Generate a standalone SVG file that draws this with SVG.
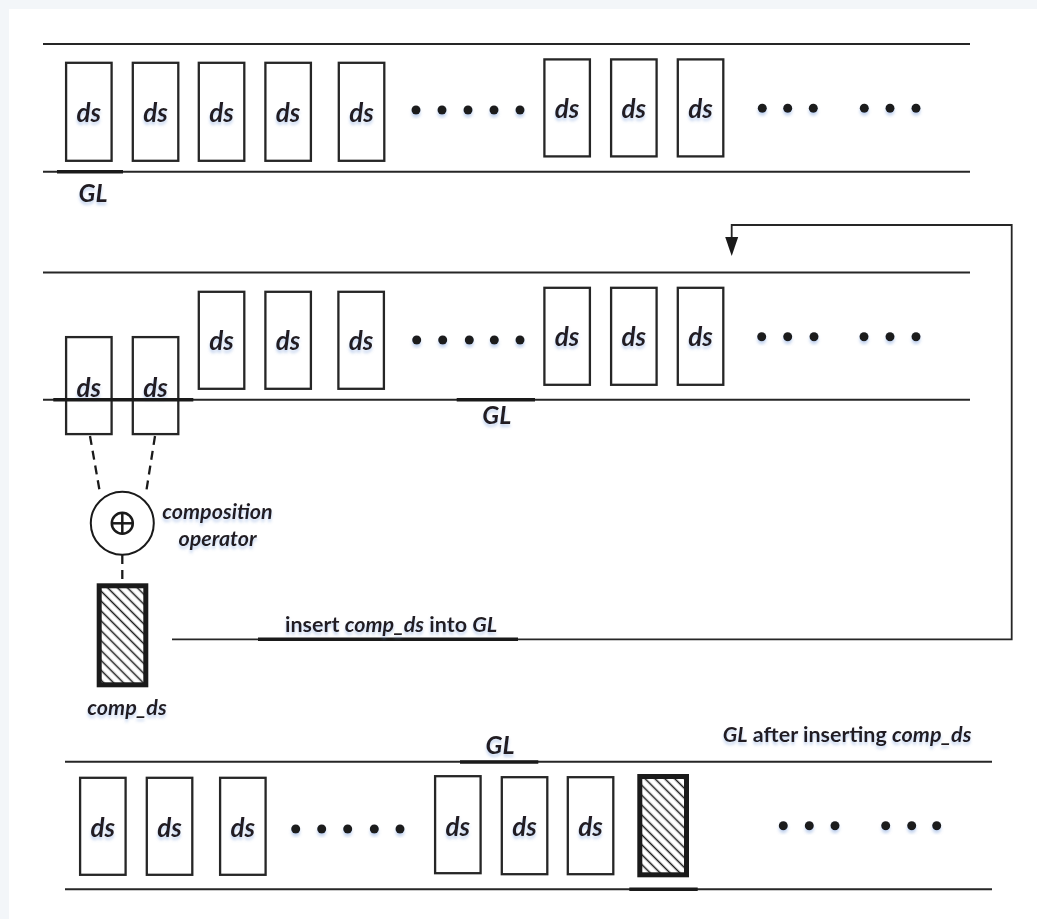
<svg xmlns="http://www.w3.org/2000/svg" width="1037" height="919" viewBox="0 0 1037 919">
<defs>
<style>
.ln{stroke:#262626;stroke-width:2;fill:none}
.tk{stroke:#1a1a1a;stroke-width:3.6;fill:none}
.bx{fill:#fff;stroke:#262626;stroke-width:2.3}
.hb{fill:url(#hatch);stroke:#1a1a1a;stroke-width:5}
.ds{font-family:Lato,"Open Sans",sans-serif;font-weight:bold;font-style:italic;font-size:26px;fill:#231f20;text-anchor:middle}
.gl{font-family:Lato,"Open Sans",sans-serif;font-weight:bold;font-style:italic;font-size:25px;fill:#231f20;text-anchor:middle}
.lb{font-family:Lato,"Open Sans",sans-serif;font-weight:bold;font-size:21.5px;fill:#231f20}
.it{font-style:italic}
.dt{fill:#1a1a1a}
.dash{stroke:#1a1a1a;stroke-width:2.3;stroke-dasharray:9 6;fill:none}
.con{stroke:#262626;stroke-width:1.8;fill:none}
</style>
<pattern id="hatch" patternUnits="userSpaceOnUse" width="7" height="7" patternTransform="rotate(-45)">
<rect width="7" height="7" fill="#fff"/>
<line x1="3.5" y1="0" x2="3.5" y2="7" stroke="#1a1a1a" stroke-width="1.5"/>
</pattern>
<filter id="sh" x="-50%" y="-50%" width="200%" height="200%">
<feGaussianBlur in="SourceAlpha" stdDeviation="1.6"/>
<feOffset dy="2.5" result="b"/>
<feFlood flood-color="#6f95d6" flood-opacity="0.4"/>
<feComposite in2="b" operator="in"/>
<feMerge><feMergeNode/><feMergeNode in="SourceGraphic"/></feMerge>
</filter>
<marker id="ah" markerUnits="userSpaceOnUse" markerWidth="20" markerHeight="14" refX="1" refY="6.5" orient="auto" viewBox="0 0 20 13">
<path d="M0,0 L19,6.5 L0,13 Z" fill="#1a1a1a"/>
</marker>
</defs>

<rect x="0" y="0" width="1037" height="919" fill="#f3f6f9"/>
<rect x="9" y="9" width="1028" height="910" fill="#fff"/>

<!-- Row 1 -->
<g id="row1">
<line class="ln" x1="43" y1="44" x2="970" y2="44"/>
<line class="ln" x1="43" y1="171.7" x2="970" y2="171.7"/>
<line class="tk" x1="57" y1="171.7" x2="123" y2="171.7"/>
</g>
<g id="r1-gl"><text class="gl" x="93" y="201.5" filter="url(#sh)">GL</text></g>
<g id="r1-ds1"><rect class="bx" x="66.1" y="62.8" width="45.5" height="98"/><text class="ds" x="88.8" y="121.5" filter="url(#sh)">ds</text></g>
<g id="r1-ds2"><rect class="bx" x="132.8" y="62.8" width="45.5" height="98"/><text class="ds" x="155.5" y="121.5" filter="url(#sh)">ds</text></g>
<g id="r1-ds3"><rect class="bx" x="198.8" y="62.8" width="45.5" height="98"/><text class="ds" x="221.5" y="121.5" filter="url(#sh)">ds</text></g>
<g id="r1-ds4"><rect class="bx" x="265.4" y="62.8" width="45.5" height="98"/><text class="ds" x="288.1" y="121.5" filter="url(#sh)">ds</text></g>
<g id="r1-ds5"><rect class="bx" x="338.8" y="62.8" width="45.5" height="98"/><text class="ds" x="361.5" y="121.5" filter="url(#sh)">ds</text></g>
<g id="r1-dots1" class="dt" filter="url(#sh)"><circle cx="416" cy="110" r="4.5"/><circle cx="442" cy="110" r="4.5"/><circle cx="468" cy="110" r="4.5"/><circle cx="494" cy="110" r="4.5"/><circle cx="520" cy="110" r="4.5"/></g>
<g id="r1-ds6"><rect class="bx" x="544.4" y="59.4" width="45.5" height="97"/><text class="ds" x="567.1" y="117.5" filter="url(#sh)">ds</text></g>
<g id="r1-ds7"><rect class="bx" x="611.1" y="59.4" width="45.5" height="97"/><text class="ds" x="633.8" y="117.5" filter="url(#sh)">ds</text></g>
<g id="r1-ds8"><rect class="bx" x="677.8" y="59.4" width="45.5" height="97"/><text class="ds" x="700.5" y="117.5" filter="url(#sh)">ds</text></g>
<g id="r1-dots2" class="dt" filter="url(#sh)"><circle cx="762.3" cy="108.3" r="4.5"/><circle cx="787.7" cy="108.3" r="4.5"/><circle cx="813.3" cy="108.3" r="4.5"/><circle cx="864.3" cy="108.3" r="4.5"/><circle cx="890" cy="108.3" r="4.5"/><circle cx="916" cy="108.3" r="4.5"/></g>

<!-- Row 2 -->
<g id="row2">
<line class="ln" x1="43" y1="272.5" x2="970" y2="272.5"/>
<line class="ln" x1="43" y1="399.7" x2="970" y2="399.7"/>
</g>
<g id="r2-dsA"><rect class="bx" x="66.1" y="337.1" width="45.5" height="97"/><text class="ds" x="88.8" y="396.5" filter="url(#sh)">ds</text></g>
<g id="r2-dsB"><rect class="bx" x="132.8" y="337.1" width="45.5" height="97"/><text class="ds" x="155.5" y="396.5" filter="url(#sh)">ds</text></g>
<g id="row2-marks">
<line class="tk" x1="53.3" y1="399.7" x2="193.3" y2="399.7"/>
<line class="tk" x1="456.7" y1="399.7" x2="535" y2="399.7"/>
</g>
<g id="r2-gl"><text class="gl" x="496.7" y="424" filter="url(#sh)">GL</text></g>
<g id="r2-ds3"><rect class="bx" x="198.8" y="291.8" width="45.5" height="97"/><text class="ds" x="221.5" y="350" filter="url(#sh)">ds</text></g>
<g id="r2-ds4"><rect class="bx" x="265.4" y="291.8" width="45.5" height="97"/><text class="ds" x="288.1" y="350" filter="url(#sh)">ds</text></g>
<g id="r2-ds5"><rect class="bx" x="338.4" y="291.8" width="45.5" height="97"/><text class="ds" x="361.1" y="350" filter="url(#sh)">ds</text></g>
<g id="r2-dots1" class="dt" filter="url(#sh)"><circle cx="416.7" cy="340" r="4.5"/><circle cx="442.7" cy="340" r="4.5"/><circle cx="469.3" cy="340" r="4.5"/><circle cx="494.3" cy="340" r="4.5"/><circle cx="520" cy="340" r="4.5"/></g>
<g id="r2-ds6"><rect class="bx" x="544.4" y="287.8" width="45.5" height="97"/><text class="ds" x="567.1" y="346" filter="url(#sh)">ds</text></g>
<g id="r2-ds7"><rect class="bx" x="611.1" y="287.8" width="45.5" height="97"/><text class="ds" x="633.8" y="346" filter="url(#sh)">ds</text></g>
<g id="r2-ds8"><rect class="bx" x="677.8" y="287.8" width="45.5" height="97"/><text class="ds" x="700.5" y="346" filter="url(#sh)">ds</text></g>
<g id="r2-dots2" class="dt" filter="url(#sh)"><circle cx="761.7" cy="336.7" r="4.5"/><circle cx="787.7" cy="336.7" r="4.5"/><circle cx="814" cy="336.7" r="4.5"/><circle cx="864" cy="336.7" r="4.5"/><circle cx="890" cy="336.7" r="4.5"/><circle cx="916" cy="336.7" r="4.5"/></g>

<!-- Operator -->
<g id="operator">
<circle cx="122.3" cy="523.3" r="31.5" fill="#fff" stroke="#1a1a1a" stroke-width="2"/>
<circle cx="122.3" cy="523.3" r="10.5" fill="none" stroke="#1a1a1a" stroke-width="2.5"/>
<line x1="111.8" y1="523.3" x2="132.8" y2="523.3" stroke="#1a1a1a" stroke-width="2.5"/>
<line x1="122.3" y1="512.8" x2="122.3" y2="533.8" stroke="#1a1a1a" stroke-width="2.5"/>
<text class="lb it" filter="url(#sh)"><tspan x="217.5" y="519" text-anchor="middle">composition</tspan><tspan x="217.5" y="546" text-anchor="middle">operator</tspan></text>
</g>

<g id="comp_ds">
<rect class="hb" x="99.2" y="585.8" width="46.6" height="99"/>
<text class="lb it" x="127" y="715" text-anchor="middle" filter="url(#sh)">comp_ds</text>
</g>

<!-- Connectors -->
<g id="connectors">
<line class="dash" x1="90" y1="436" x2="100" y2="493"/>
<line class="dash" x1="155" y1="436" x2="146" y2="493"/>
<line class="dash" x1="122.3" y1="555" x2="122.3" y2="583"/>
<polyline class="con" points="172,639.3 1011.7,639.3 1011.7,225 731.7,225 731.7,238" marker-end="url(#ah)"/>
<line class="tk" x1="258" y1="639.3" x2="518" y2="639.3"/>
<text class="lb" x="285" y="632" filter="url(#sh)">insert <tspan class="it">comp_ds</tspan> into <tspan class="it">GL</tspan></text>
</g>

<!-- Row 3 -->
<g id="row3">
<line class="ln" x1="65" y1="761.7" x2="992" y2="761.7"/>
<line class="ln" x1="65" y1="889.3" x2="992" y2="889.3"/>
<line class="tk" x1="460" y1="762" x2="538.3" y2="762"/>
<line class="tk" x1="629.3" y1="889.3" x2="697.7" y2="889.3"/>
</g>
<g id="r3-gl"><text class="gl" x="500" y="754.3" filter="url(#sh)">GL</text></g>
<g id="r3-label"><text class="lb" x="722.7" y="741.7" filter="url(#sh)"><tspan class="it">GL</tspan> after inserting <tspan class="it">comp_ds</tspan></text></g>
<g id="r3-ds1"><rect class="bx" x="80.1" y="777.8" width="45.5" height="97"/><text class="ds" x="102.8" y="836.5" filter="url(#sh)">ds</text></g>
<g id="r3-ds2"><rect class="bx" x="146.8" y="777.8" width="45.5" height="97"/><text class="ds" x="169.5" y="836.5" filter="url(#sh)">ds</text></g>
<g id="r3-ds3"><rect class="bx" x="220.1" y="777.8" width="45.5" height="97"/><text class="ds" x="242.8" y="836.5" filter="url(#sh)">ds</text></g>
<g id="r3-dots1" class="dt" filter="url(#sh)"><circle cx="295.7" cy="829" r="4.5"/><circle cx="321.7" cy="829" r="4.5"/><circle cx="347.7" cy="829" r="4.5"/><circle cx="374.3" cy="829" r="4.5"/><circle cx="400" cy="829" r="4.5"/></g>
<g id="r3-ds4"><rect class="bx" x="435.1" y="776.2" width="45.5" height="97"/><text class="ds" x="457.8" y="835.7" filter="url(#sh)">ds</text></g>
<g id="r3-ds5"><rect class="bx" x="501.8" y="777.2" width="45.5" height="97"/><text class="ds" x="524.5" y="835.7" filter="url(#sh)">ds</text></g>
<g id="r3-ds6"><rect class="bx" x="567.8" y="777.2" width="45.5" height="97"/><text class="ds" x="590.5" y="835.7" filter="url(#sh)">ds</text></g>
<g id="r3-comp"><rect class="hb" x="639.8" y="776.5" width="46.7" height="98.3"/></g>
<g id="r3-dots2" class="dt" filter="url(#sh)"><circle cx="783.3" cy="825.7" r="4.5"/><circle cx="809.3" cy="825.7" r="4.5"/><circle cx="835" cy="825.7" r="4.5"/><circle cx="885.7" cy="825.7" r="4.5"/><circle cx="911.7" cy="825.7" r="4.5"/><circle cx="936.7" cy="825.7" r="4.5"/></g>
</svg>
